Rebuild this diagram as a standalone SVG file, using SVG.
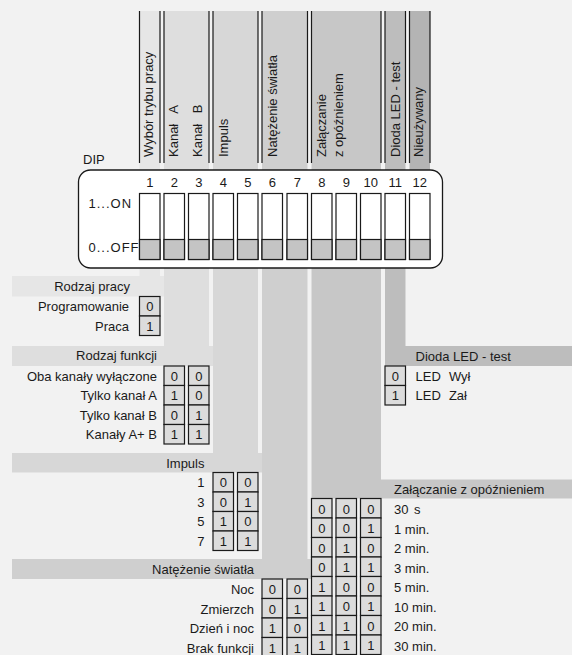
<svg xmlns="http://www.w3.org/2000/svg" width="572" height="655" viewBox="0 0 572 655">
  <style>
    text { font-family: "Liberation Sans", Arial, sans-serif; font-size: 13px; fill: #1a1a1a; }
    .end { text-anchor: end; }
    .mid { text-anchor: middle; }
    .hline { stroke: #1a1a1a; stroke-width: 1.2; fill: none; }
    .bit { fill: #dcdcdc; stroke: #1a1a1a; stroke-width: 1.2; }
    .sw { fill: #ffffff; stroke: #1a1a1a; stroke-width: 1.2; }
    .swoff { fill: #c4c4c4; stroke: #1a1a1a; stroke-width: 1.2; }
  </style>

  <!-- page background -->
  <rect x="0" y="0" width="572" height="655" fill="#f2f2f2"/>

  <!-- L-shaped bands: header column down to each table's title bar -->
  <g id="bands">
    <path d="M139.5 11 H160 V276 H164 V296.5 H12 V276 H139.5 Z" fill="#e6e6e6"/>
    <path d="M164 11 H209 V346 H213 V366 H12 V346 H164 Z" fill="#dedede"/>
    <path d="M213 11 H258 V453 H262 V472.5 H12 V453 H213 Z" fill="#d7d7d7"/>
    <path d="M262 11 H307.5 V559 H311.5 V579 H12 V559 H262 Z" fill="#cfcfcf"/>
    <path d="M311.5 11 H381 V479.5 H572 V498.5 H311.5 Z" fill="#c7c7c7"/>
    <path d="M385 11 H405.5 V346 H572 V366 H385 Z" fill="#bdbdbd"/>
    <rect x="409.5" y="11" width="20.5" height="190" fill="#b4b4b4"/>
  </g>

  <!-- column headers -->
  <g id="headers">
    <g id="hdr-mode">
      <path class="hline" d="M139.5 11 V163 M160 11 V163"/>
      <text transform="translate(152.7 157) rotate(-90)">Wybór trybu pracy</text>
    </g>
    <g id="hdr-channel">
      <path class="hline" d="M164 11 V163 M209 11 V163"/>
      <text transform="translate(177.8 157) rotate(-90)">Kanał<tspan dx="7"> A</tspan></text>
      <text transform="translate(202.3 157) rotate(-90)">Kanał<tspan dx="7"> B</tspan></text>
    </g>
    <g id="hdr-impulse">
      <path class="hline" d="M213 11 V163 M258 11 V163"/>
      <text transform="translate(228.3 157) rotate(-90)">Impuls</text>
    </g>
    <g id="hdr-light">
      <path class="hline" d="M262 11 V163 M307.5 11 V163"/>
      <text transform="translate(276.7 157) rotate(-90)">Natężenie światła</text>
    </g>
    <g id="hdr-delay">
      <path class="hline" d="M311.5 11 V163 M381 11 V163"/>
      <text transform="translate(326 157) rotate(-90)">Załączanie</text>
      <text transform="translate(342.5 157) rotate(-90)">z opóźnieniem</text>
    </g>
    <g id="hdr-led">
      <path class="hline" d="M385 11 V163 M405.5 11 V163"/>
      <text transform="translate(399.5 157) rotate(-90)">Dioda LED - test</text>
    </g>
    <g id="hdr-unused">
      <path class="hline" d="M409.5 11 V163 M430 11 V163"/>
      <text transform="translate(422.7 157) rotate(-90)">Nieużywany</text>
    </g>
  </g>

  <!-- DIP switch block -->
  <g id="dip">
    <text x="83" y="163.5">DIP</text>
    <rect x="78.5" y="170" width="364" height="98" rx="12" fill="#ffffff" stroke="#1a1a1a" stroke-width="1.3"/>
    <text x="88.5" y="208.3" letter-spacing="1">1...ON</text>
    <text x="88.5" y="251.7" letter-spacing="1">0...OFF</text>
    <g class="mid">
      <text class="mid" x="149.75" y="187.3">1</text>
      <text class="mid" x="174.25" y="187.3">2</text>
      <text class="mid" x="198.75" y="187.3">3</text>
      <text class="mid" x="223.25" y="187.3">4</text>
      <text class="mid" x="247.75" y="187.3">5</text>
      <text class="mid" x="272.25" y="187.3">6</text>
      <text class="mid" x="297.25" y="187.3">7</text>
      <text class="mid" x="321.75" y="187.3">8</text>
      <text class="mid" x="346.25" y="187.3">9</text>
      <text class="mid" x="370.75" y="187.3">10</text>
      <text class="mid" x="395.25" y="187.3">11</text>
      <text class="mid" x="419.75" y="187.3">12</text>
    </g>
    <g id="switches">
      <rect class="sw" x="139.5" y="193.5" width="20.5" height="66"/><rect class="swoff" x="139.5" y="239.5" width="20.5" height="20"/>
      <rect class="sw" x="164" y="193.5" width="20.5" height="66"/><rect class="swoff" x="164" y="239.5" width="20.5" height="20"/>
      <rect class="sw" x="188.5" y="193.5" width="20.5" height="66"/><rect class="swoff" x="188.5" y="239.5" width="20.5" height="20"/>
      <rect class="sw" x="213" y="193.5" width="20.5" height="66"/><rect class="swoff" x="213" y="239.5" width="20.5" height="20"/>
      <rect class="sw" x="237.5" y="193.5" width="20.5" height="66"/><rect class="swoff" x="237.5" y="239.5" width="20.5" height="20"/>
      <rect class="sw" x="262" y="193.5" width="20.5" height="66"/><rect class="swoff" x="262" y="239.5" width="20.5" height="20"/>
      <rect class="sw" x="287" y="193.5" width="20.5" height="66"/><rect class="swoff" x="287" y="239.5" width="20.5" height="20"/>
      <rect class="sw" x="311.5" y="193.5" width="20.5" height="66"/><rect class="swoff" x="311.5" y="239.5" width="20.5" height="20"/>
      <rect class="sw" x="336" y="193.5" width="20.5" height="66"/><rect class="swoff" x="336" y="239.5" width="20.5" height="20"/>
      <rect class="sw" x="360.5" y="193.5" width="20.5" height="66"/><rect class="swoff" x="360.5" y="239.5" width="20.5" height="20"/>
      <rect class="sw" x="385" y="193.5" width="20.5" height="66"/><rect class="swoff" x="385" y="239.5" width="20.5" height="20"/>
      <rect class="sw" x="409.5" y="193.5" width="20.5" height="66"/><rect class="swoff" x="409.5" y="239.5" width="20.5" height="20"/>
    </g>
  </g>

  <!-- Operating mode (switch 1) -->
  <g id="tbl-mode">
    <text class="end" x="130" y="290.7">Rodzaj pracy</text>
    <text class="end" x="129" y="311">Programowanie</text>
    <text class="end" x="129" y="330.5">Praca</text>
    <rect class="bit" x="139.5" y="296.5" width="20.5" height="19.5"/>
    <rect class="bit" x="139.5" y="316" width="20.5" height="19.5"/>
    <text class="mid" x="149.75" y="311.2">0</text>
    <text class="mid" x="149.75" y="330.7">1</text>
  </g>

  <!-- Function type (switches 2-3) -->
  <g id="tbl-function">
    <text class="end" x="157" y="360.3">Rodzaj funkcji</text>
    <text class="end" x="157" y="380.5">Oba kanały wyłączone</text>
    <text class="end" x="157" y="400">Tylko kanał A</text>
    <text class="end" x="157" y="419.5">Tylko kanał B</text>
    <text class="end" x="157" y="439">Kanały A+ B</text>
    <rect class="bit" x="164" y="366" width="20.5" height="19.5"/>
    <rect class="bit" x="164" y="385.5" width="20.5" height="19.5"/>
    <rect class="bit" x="164" y="405" width="20.5" height="19.5"/>
    <rect class="bit" x="164" y="424.5" width="20.5" height="19.5"/>
    <rect class="bit" x="188.5" y="366" width="20.5" height="19.5"/>
    <rect class="bit" x="188.5" y="385.5" width="20.5" height="19.5"/>
    <rect class="bit" x="188.5" y="405" width="20.5" height="19.5"/>
    <rect class="bit" x="188.5" y="424.5" width="20.5" height="19.5"/>
    <text class="mid" x="174.25" y="380.7">0</text>
    <text class="mid" x="174.25" y="400.2">1</text>
    <text class="mid" x="174.25" y="419.7">0</text>
    <text class="mid" x="174.25" y="439.2">1</text>
    <text class="mid" x="198.75" y="380.7">0</text>
    <text class="mid" x="198.75" y="400.2">0</text>
    <text class="mid" x="198.75" y="419.7">1</text>
    <text class="mid" x="198.75" y="439.2">1</text>
  </g>

  <!-- LED test (switch 11) -->
  <g id="tbl-led">
    <text x="415.5" y="360.5">Dioda LED - test</text>
    <text x="415.5" y="380.5">LED<tspan dx="4.5"> Wył</tspan></text>
    <text x="415.5" y="400">LED<tspan dx="4.5"> Zał</tspan></text>
    <rect class="bit" x="385" y="366" width="20.5" height="19.5"/>
    <rect class="bit" x="385" y="385.5" width="20.5" height="19.5"/>
    <text class="mid" x="395.25" y="380.7">0</text>
    <text class="mid" x="395.25" y="400.2">1</text>
  </g>

  <!-- Impulse (switches 4-5) -->
  <g id="tbl-impulse">
    <text class="end" x="204.5" y="467.5">Impuls</text>
    <text class="end" x="204.5" y="487">1</text>
    <text class="end" x="204.5" y="506.5">3</text>
    <text class="end" x="204.5" y="526">5</text>
    <text class="end" x="204.5" y="545.5">7</text>
    <rect class="bit" x="213" y="472.5" width="20.5" height="19.5"/>
    <rect class="bit" x="213" y="492" width="20.5" height="19.5"/>
    <rect class="bit" x="213" y="511.5" width="20.5" height="19.5"/>
    <rect class="bit" x="213" y="531" width="20.5" height="19.5"/>
    <rect class="bit" x="237.5" y="472.5" width="20.5" height="19.5"/>
    <rect class="bit" x="237.5" y="492" width="20.5" height="19.5"/>
    <rect class="bit" x="237.5" y="511.5" width="20.5" height="19.5"/>
    <rect class="bit" x="237.5" y="531" width="20.5" height="19.5"/>
    <text class="mid" x="223.25" y="487.2">0</text>
    <text class="mid" x="223.25" y="506.7">0</text>
    <text class="mid" x="223.25" y="526.2">1</text>
    <text class="mid" x="223.25" y="545.7">1</text>
    <text class="mid" x="247.75" y="487.2">0</text>
    <text class="mid" x="247.75" y="506.7">1</text>
    <text class="mid" x="247.75" y="526.2">0</text>
    <text class="mid" x="247.75" y="545.7">1</text>
  </g>

  <!-- Light level (switches 6-7) -->
  <g id="tbl-light">
    <text class="end" x="254" y="573.5">Natężenie światła</text>
    <text class="end" x="254" y="594">Noc</text>
    <text class="end" x="254" y="613.5">Zmierzch</text>
    <text class="end" x="254" y="633">Dzień i noc</text>
    <text class="end" x="254" y="652.5">Brak funkcji</text>
    <rect class="bit" x="262" y="579" width="20.5" height="19.5"/>
    <rect class="bit" x="262" y="598.5" width="20.5" height="19.5"/>
    <rect class="bit" x="262" y="618" width="20.5" height="19.5"/>
    <rect class="bit" x="262" y="637.5" width="20.5" height="19.5"/>
    <rect class="bit" x="287" y="579" width="20.5" height="19.5"/>
    <rect class="bit" x="287" y="598.5" width="20.5" height="19.5"/>
    <rect class="bit" x="287" y="618" width="20.5" height="19.5"/>
    <rect class="bit" x="287" y="637.5" width="20.5" height="19.5"/>
    <text class="mid" x="272.25" y="594">0</text>
    <text class="mid" x="272.25" y="613.5">0</text>
    <text class="mid" x="272.25" y="633">1</text>
    <text class="mid" x="272.25" y="652.5">1</text>
    <text class="mid" x="297.25" y="594">0</text>
    <text class="mid" x="297.25" y="613.5">1</text>
    <text class="mid" x="297.25" y="633">0</text>
    <text class="mid" x="297.25" y="652.5">1</text>
  </g>

  <!-- Switch-on delay (switches 8-10) -->
  <g id="tbl-delay">
    <text x="394" y="493.5">Załączanie z opóźnieniem</text>
    <text x="394" y="514">30<tspan dx="2"> s</tspan></text>
    <text x="394" y="533.5">1 min.</text>
    <text x="394" y="553">2 min.</text>
    <text x="394" y="572.5">3 min.</text>
    <text x="394" y="592">5 min.</text>
    <text x="394" y="611.5">10 min.</text>
    <text x="394" y="631">20 min.</text>
    <text x="394" y="650.5">30 min.</text>
    <g id="delay-boxes">
      <rect class="bit" x="311.5" y="498.5" width="20.5" height="19.5"/>
      <rect class="bit" x="311.5" y="518" width="20.5" height="19.5"/>
      <rect class="bit" x="311.5" y="537.5" width="20.5" height="19.5"/>
      <rect class="bit" x="311.5" y="557" width="20.5" height="19.5"/>
      <rect class="bit" x="311.5" y="576.5" width="20.5" height="19.5"/>
      <rect class="bit" x="311.5" y="596" width="20.5" height="19.5"/>
      <rect class="bit" x="311.5" y="615.5" width="20.5" height="19.5"/>
      <rect class="bit" x="311.5" y="635" width="20.5" height="19.5"/>
      <rect class="bit" x="336" y="498.5" width="20.5" height="19.5"/>
      <rect class="bit" x="336" y="518" width="20.5" height="19.5"/>
      <rect class="bit" x="336" y="537.5" width="20.5" height="19.5"/>
      <rect class="bit" x="336" y="557" width="20.5" height="19.5"/>
      <rect class="bit" x="336" y="576.5" width="20.5" height="19.5"/>
      <rect class="bit" x="336" y="596" width="20.5" height="19.5"/>
      <rect class="bit" x="336" y="615.5" width="20.5" height="19.5"/>
      <rect class="bit" x="336" y="635" width="20.5" height="19.5"/>
      <rect class="bit" x="360.5" y="498.5" width="20.5" height="19.5"/>
      <rect class="bit" x="360.5" y="518" width="20.5" height="19.5"/>
      <rect class="bit" x="360.5" y="537.5" width="20.5" height="19.5"/>
      <rect class="bit" x="360.5" y="557" width="20.5" height="19.5"/>
      <rect class="bit" x="360.5" y="576.5" width="20.5" height="19.5"/>
      <rect class="bit" x="360.5" y="596" width="20.5" height="19.5"/>
      <rect class="bit" x="360.5" y="615.5" width="20.5" height="19.5"/>
      <rect class="bit" x="360.5" y="635" width="20.5" height="19.5"/>
    </g>
    <g id="delay-bits">
      <text class="mid" x="321.75" y="513.5">0</text><text class="mid" x="346.25" y="513.5">0</text><text class="mid" x="370.75" y="513.5">0</text>
      <text class="mid" x="321.75" y="533">0</text><text class="mid" x="346.25" y="533">0</text><text class="mid" x="370.75" y="533">1</text>
      <text class="mid" x="321.75" y="552.5">0</text><text class="mid" x="346.25" y="552.5">1</text><text class="mid" x="370.75" y="552.5">0</text>
      <text class="mid" x="321.75" y="572">0</text><text class="mid" x="346.25" y="572">1</text><text class="mid" x="370.75" y="572">1</text>
      <text class="mid" x="321.75" y="591.5">1</text><text class="mid" x="346.25" y="591.5">0</text><text class="mid" x="370.75" y="591.5">0</text>
      <text class="mid" x="321.75" y="611">1</text><text class="mid" x="346.25" y="611">0</text><text class="mid" x="370.75" y="611">1</text>
      <text class="mid" x="321.75" y="630.5">1</text><text class="mid" x="346.25" y="630.5">1</text><text class="mid" x="370.75" y="630.5">0</text>
      <text class="mid" x="321.75" y="650">1</text><text class="mid" x="346.25" y="650">1</text><text class="mid" x="370.75" y="650">1</text>
    </g>
  </g>
</svg>
